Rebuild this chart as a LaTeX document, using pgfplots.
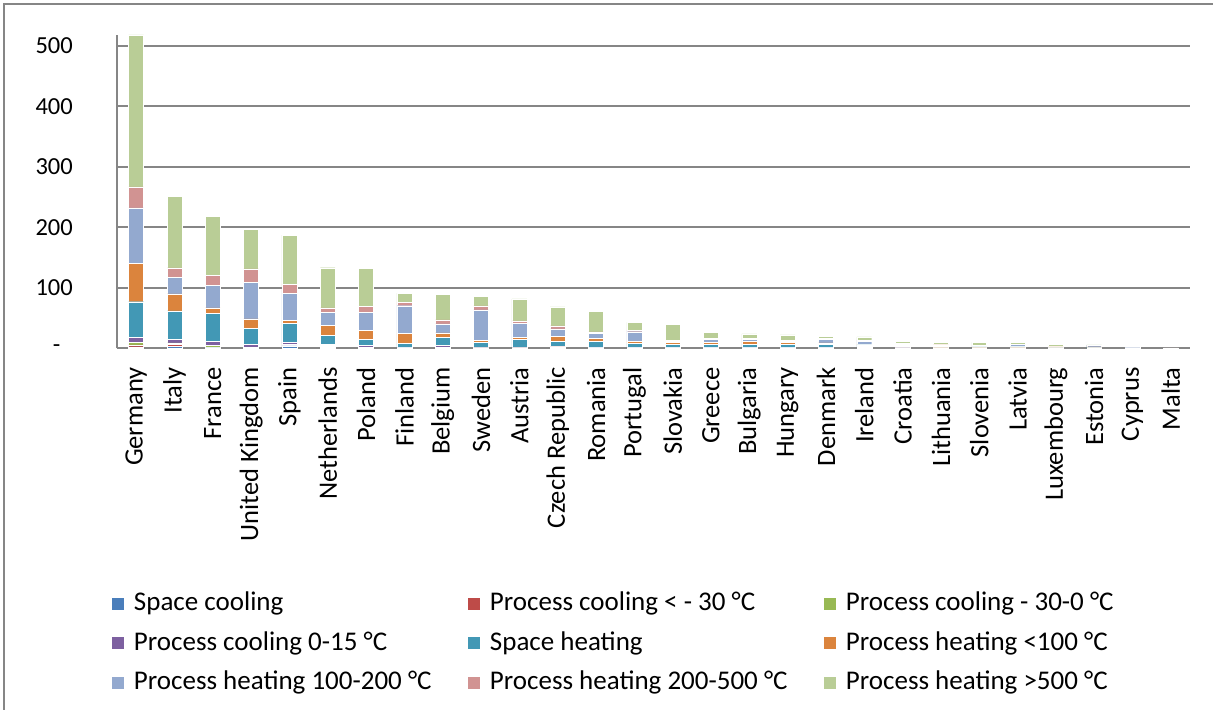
\documentclass[border=0pt]{standalone}
\usepackage{fontspec}
\setmainfont{Carlito}
\usepackage{pgfplots}
\usepackage{pgfplotstable}
\pgfplotsset{compat=1.18}

\definecolor{axgray}{HTML}{868686}
\definecolor{cSC}{HTML}{4A7EBB}
\definecolor{cPCa}{HTML}{BE4B48}
\definecolor{cPCb}{HTML}{98B954}
\definecolor{cPCc}{HTML}{7D60A0}
\definecolor{cSH}{HTML}{4298B5}
\definecolor{cPHa}{HTML}{DB843D}
\definecolor{cPHb}{HTML}{93A9CF}
\definecolor{cPHc}{HTML}{D19392}
\definecolor{cPHd}{HTML}{B9CD96}

% TWh by country, stacked from the bottom up
\pgfplotstableread{
x  sc   pc30 pc0  pc15 sh   ph100 ph200 ph500 ph500p
0  2.5  3    4    8.5  59   63.5  91.5  35    251
1  3    3    3    6    47   28    27    16    118
2  0.5  0.5  3.5  6.5  47   9     37.6  15.4  97.6
3  1    0.5  0.5  4.5  26   16    60.6  22    66
4  4    1    2    3    30.7 5     45.4  14.8  81
5  2    1    2    2    14   16.6  21.4  7.8   66.4
6  1    0.5  0.5  2.3  11   14.6  29.5  10.5  62
7  0.5  0.5  0.3  0.3  6.7  16.5  45.6  5     15.6
8  1    0.5  0.5  3    13   7.3   15    6.6   42
9  0.5  0.4  0.3  0.4  7.7  4.4   50    6.6   16
10 0.5  0.4  0.3  0.4  13.3 3.3   23    4.3   36
11 1.5  0.8  0.5  1    7.2  9.3   11.6  5     31.4
12 0.7  0.5  0.4  0.5  9.5  4.3   9     2.2   34
13 0.7  0.5  0.4  0.5  6.1  3.8   15.4  2.8   12.8
14 0.6  0.4  0.5  0.5  5.1  2.2   2.3   1.6   26.8
15 0.6  0.4  0.5  0.5  4    3.3   5.6   1     9.9
16 0.6  0.4  0.5  0.5  5.1  4.5   3.3   2.1   7
17 0.6  0.4  0.5  0.5  4.6  2.7   2.3   1.6   8.8
18 0.6  0.4  0.5  0.5  4.6  2.2   6.1   1     3.9
19 1    0.5  0.4  0.8  2.8  1.6   3.9   2.7   5
20 0.5  0.3  0.3  0.4  1.9  1     2.2   1.6   2.8
21 0.3  0.2  0.2  0.3  1.7  2.8   1.1   0.5   3.3
22 0.3  0.2  0.2  0.3  1.4  0.3   2.3   0.3   4.3
23 0.3  0.3  0.3  0.3  1.2  0.3   4.1   0.3   2.2
24 0.2  0.2  0.2  0.2  1.2  0.2   0.5   0.2   3.3
25 0.2  0.2  0.2  0.2  1.2  0.2   2.5   0.2   0.8
26 0.2  0.1  0.1  0.2  0.3  0.3   0.3   0.1   0.5
27 0.1  0.05 0.05 0.1  0.1  0.05  0.05  0.05  0.1
}\datatable

\begin{document}
\begin{tikzpicture}
\path[use as bounding box] (0bp,0bp) rectangle (1213bp,710bp);
\draw[axgray, line width=1.5bp] (4bp,0bp) -- (4bp,706bp) -- (1213bp,706bp);
\begin{axis}[
    at={(117bp,361.7bp)}, anchor=south west,
    scale only axis,
    width=1073bp, height=313.4bp,
    ybar stacked,
    bar width=0.39,
    xmin=-0.5, xmax=27.5,
    ymin=0, ymax=518,
    clip=false,
    axis x line*=bottom, axis y line*=left,
    axis line style={-, draw=axgray, line width=1.8bp},
    ymajorgrids,
    grid style={draw=axgray, line width=1.6bp},
    major tick length=0pt,
    font=\fontsize{24.5bp}{29bp}\selectfont,
    ytick={0,100,...,500},
    yticklabels={-\hphantom{0},100,200,300,400,500},
    yticklabel style={anchor=east, inner sep=0pt},
    yticklabel shift=44bp,
    xtick={0,...,27},
    xticklabels={Germany,Italy,France,United Kingdom,Spain,Netherlands,Poland,Finland,Belgium,Sweden,Austria,Czech Republic,Romania,Portugal,Slovakia,Greece,Bulgaria,Hungary,Denmark,Ireland,Croatia,Lithuania,Slovenia,Latvia,Luxembourg,Estonia,Cyprus,Malta},
    xticklabel style={rotate=90, anchor=east, inner sep=0pt,
        font=\fontsize{26.5bp}{30bp}\selectfont},
    xticklabel shift=19bp,
    legend columns=3,
    legend cell align=left,
    legend image code/.code={\fill[#1, draw=none] (0bp,-6bp) rectangle (12bp,6bp);},
    legend style={draw=none, fill=none, inner sep=0pt, outer sep=0pt,
        at={(-0.0047,-0.7735)}, anchor=north west,
        font=\fontsize{27bp}{31bp}\selectfont,
        nodes={inner sep=0pt, text height=20bp, text depth=6bp},
        row sep=13.5bp,
        /tikz/every odd column/.style={column sep=10bp}},
]
\addplot[fill=cSC, draw=white, line width=0.4bp] table[x=x, y=sc] {\datatable};
\addplot[fill=cPCa, draw=white, line width=0.4bp] table[x=x, y=pc30] {\datatable};
\addplot[fill=cPCb, draw=white, line width=0.4bp] table[x=x, y=pc0] {\datatable};
\addplot[fill=cPCc, draw=white, line width=0.4bp] table[x=x, y=pc15] {\datatable};
\addplot[fill=cSH, draw=white, line width=0.4bp] table[x=x, y=sh] {\datatable};
\addplot[fill=cPHa, draw=white, line width=0.4bp] table[x=x, y=ph100] {\datatable};
\addplot[fill=cPHb, draw=white, line width=0.4bp] table[x=x, y=ph200] {\datatable};
\addplot[fill=cPHc, draw=white, line width=0.4bp] table[x=x, y=ph500] {\datatable};
\addplot[fill=cPHd, draw=white, line width=0.4bp] table[x=x, y=ph500p] {\datatable};
\addlegendentry{\makebox[334bp][l]{Space cooling}}
\addlegendentry{\makebox[334bp][l]{Process cooling < - 30 °C}}
\addlegendentry{\makebox[334bp][l]{Process cooling - 30-0 °C}}
\addlegendentry{\makebox[334bp][l]{Process cooling 0-15 °C}}
\addlegendentry{\makebox[334bp][l]{Space heating}}
\addlegendentry{\makebox[334bp][l]{Process heating <100 °C}}
\addlegendentry{\makebox[334bp][l]{Process heating 100-200 °C}}
\addlegendentry{\makebox[334bp][l]{Process heating 200-500 °C}}
\addlegendentry{\makebox[334bp][l]{Process heating >500 °C}}
\end{axis}
\end{tikzpicture}
\end{document}
